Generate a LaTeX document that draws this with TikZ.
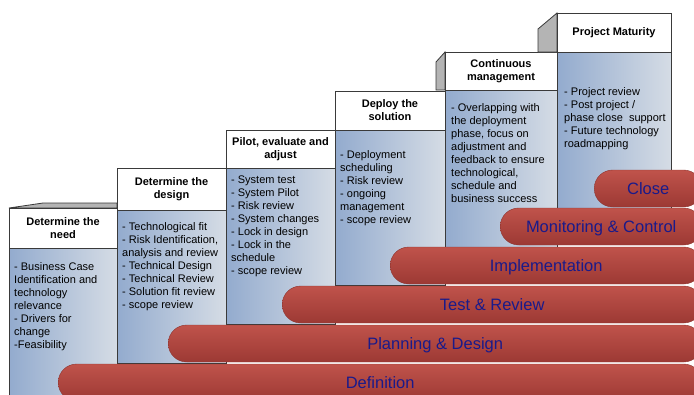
\documentclass[tikz,border=0pt]{standalone}
\usepackage{fontspec}
\setmainfont{Liberation Sans}

\definecolor{boxline}{HTML}{3A3A3A}
\definecolor{bodyleft}{HTML}{93ABCE}
\definecolor{bodyright}{HTML}{D5DCE5}
\definecolor{sidegray}{HTML}{B4B4B4}
\definecolor{pilltop}{HTML}{C0534B}
\definecolor{pillbottom}{HTML}{9C3934}
\definecolor{pilledge}{HTML}{8E3530}
\definecolor{pilltext}{HTML}{1A1A8A}

\begin{document}
\begin{tikzpicture}[x=1pt, y=-1pt,
  hdr/.style={draw=boxline, fill=white, line width=0.8pt, inner sep=0pt, outer sep=0pt, anchor=north west, align=center, font=\bfseries\fontsize{11}{13}\selectfont},
  body/.style={draw=boxline, line width=0.8pt, left color=bodyleft, right color=bodyright, inner sep=0pt, outer sep=0pt, anchor=north west},
  txt/.style={inner sep=0pt, anchor=north west, align=left, font=\fontsize{11}{13}\selectfont},
  side/.style={draw=boxline, fill=sidegray, line width=0.8pt},
  pill/.style={draw=pilledge, line width=0.4pt, top color=pilltop, bottom color=pillbottom, rounded corners=18.5pt, minimum height=37pt, inner sep=0pt, anchor=west, text=pilltext, text height=11.8pt, text depth=0pt, font=\fontsize{16.5}{18}\selectfont}]
  \useasboundingbox (0,0) rectangle (694,394);
  \clip (0,0) rectangle (694,394);

  % steps
  \filldraw[side] (9,208) -- (43,203) -- (117,203) -- (117,208) -- cycle;
  \node[hdr, minimum width=108, minimum height=40] (need) at (9,208) {Determine the\\need};
  \node[body, minimum width=108, minimum height=160] (needbody) at (need.south west) {};
  \node[txt] (needtxt) at (14,262) {- Business Case\\Identification and\\technology\\relevance\\- Drivers for\\change\\-Feasibility};

  \node[hdr, minimum width=109, minimum height=42] (design) at (117,168) {Determine the\\design};
  \node[body, minimum width=109, minimum height=153] (designbody) at (design.south west) {};
  \node[txt] (designtxt) at (122,222) {- Technological fit\\- Risk Identification,\\analysis and review\\- Technical Design\\- Technical Review\\- Solution fit review\\- scope review};

  \node[hdr, minimum width=109, minimum height=38] (pilot) at (226,130) {Pilot, evaluate and\\adjust};
  \node[body, minimum width=109, minimum height=156] (pilotbody) at (pilot.south west) {};
  \node[txt] (pilottxt) at (231,176) {- System test\\- System Pilot\\- Risk review\\- System changes\\- Lock in design\\- Lock in the\\schedule\\- scope review};

  \node[hdr, minimum width=110, minimum height=39] (deploy) at (335,91) {Deploy the\\solution};
  \node[body, minimum width=110, minimum height=155] (deploybody) at (deploy.south west) {};
  \node[txt] (deploytxt) at (340,150) {- Deployment\\scheduling\\- Risk review\\- ongoing\\management\\- scope review};

  \filldraw[side] (436,90) -- (436,62) -- (445,52) -- (445,90) -- cycle;
  \node[hdr, minimum width=112, minimum height=38] (contmgmt) at (445,52) {Continuous\\management};
  \node[body, minimum width=112, minimum height=157] (contmgmtbody) at (contmgmt.south west) {};
  \node[txt] (contmgmttxt) at (451,103) {- Overlapping with\\the deployment\\phase, focus on\\adjustment and\\feedback to ensure\\technological,\\schedule and\\business success};

  \filldraw[side] (538,52) -- (538,29) -- (557,13) -- (557,52) -- cycle;
  \node[hdr, minimum width=114, minimum height=39] (maturity) at (557,13) {Project Maturity};
  \node[body, minimum width=114, minimum height=156] (maturitybody) at (maturity.south west) {};
  \node[txt] (maturitytxt) at (564,87) {- Project review\\- Post project /\\phase close\ \ support\\- Future technology\\roadmapping};

  % phases
  \node[pill, minimum width=644] (definition) at (58,382.5) {Definition};
  \node[pill, minimum width=534] (planning) at (168,343.5) {Planning \& Design};
  \node[pill, minimum width=420] (testreview) at (282,304.5) {Test \& Review};
  \node[pill, minimum width=312] (implementation) at (390,265.5) {Implementation};
  \node[pill, minimum width=202] (monitoring) at (500,226.5) {Monitoring \& Control};
  \node[pill, minimum width=108] (close) at (594,188.5) {Close};
\end{tikzpicture}
\end{document}
